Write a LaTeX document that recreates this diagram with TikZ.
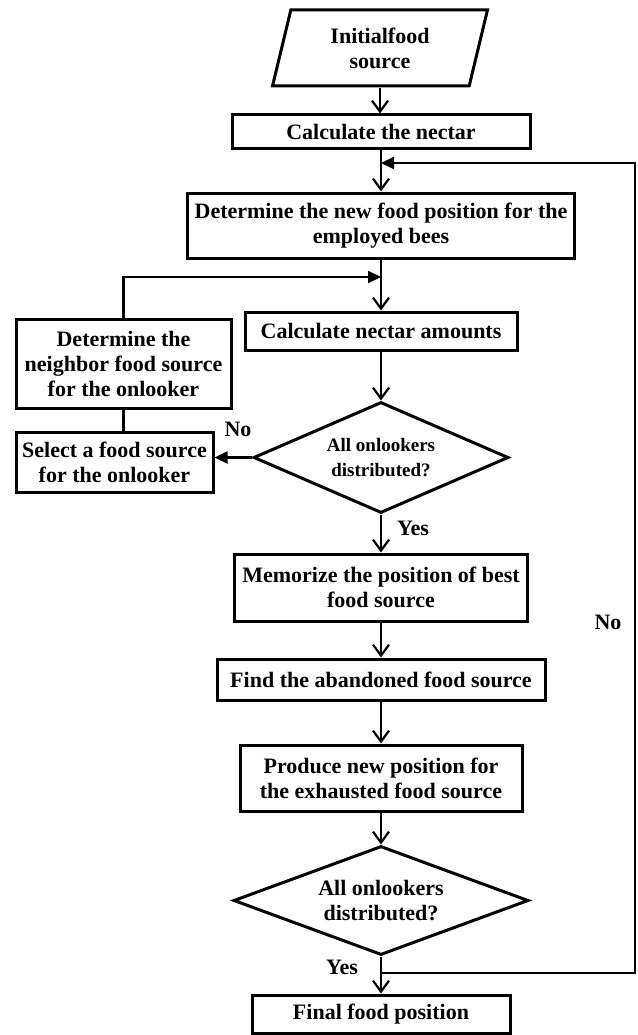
\documentclass[tikz,border=0pt]{standalone}
\usepackage{fontspec}
\setmainfont{Liberation Serif}
\usetikzlibrary{shapes.geometric,arrows.meta}

\begin{document}
\begin{tikzpicture}[x=1pt,y=-1pt,
    box/.style={draw, line width=3pt, inner sep=0pt, align=center, font=\fontsize{22}{25}\selectfont\bfseries},
    choice/.style={box, diamond, aspect=2.6},
    down/.style={line width=2.2pt, -{Straight Barb[length=11pt,width=16pt]}},
    back/.style={line width=2.2pt, -{Triangle[length=13pt,width=12pt]}},
    lbl/.style={inner sep=0pt, font=\fontsize{22}{25}\selectfont\bfseries}]
    \useasboundingbox (0,0) rectangle (637,1035);

    \node[box, trapezium, trapezium left angle=76, trapezium right angle=104, trapezium stretches, minimum width=215pt, minimum height=76pt] (init) at (380,48) {Initialfood\\source};
    \node[box, minimum width=298pt, minimum height=34pt] (calc) at (381,132) {Calculate the nectar};
    \node[box, minimum width=387pt, minimum height=65pt] (newpos) at (381,225.5) {Determine the new food position for the\\employed bees};
    \node[box, minimum width=272pt, minimum height=38pt] (amount) at (381,331) {Calculate nectar amounts};
    \node[box, minimum width=215pt, minimum height=89pt] (neigh) at (123.5,363.5) {Determine the\\neighbor food source\\for the onlooker};
    \node[box, minimum width=197pt, minimum height=60pt] (select) at (114.5,462) {Select a food source\\for the onlooker};
    \node[choice, minimum width=255pt, minimum height=111pt, font=\fontsize{19}{25}\selectfont\bfseries] (test1) at (381,457.5) {All onlookers\\distributed?};
    \node[box, minimum width=293pt, minimum height=67pt] (memo) at (381,587.5) {Memorize the position of best\\food source};
    \node[box, minimum width=328pt, minimum height=41pt] (find) at (381,679.5) {Find the abandoned food source};
    \node[box, minimum width=282pt, minimum height=66pt] (produce) at (381,778) {Produce new position for\\the exhausted food source};
    \node[choice, minimum width=295pt, minimum height=109pt] (test2) at (381,900.5) {All onlookers\\distributed?};
    \node[box, minimum width=258pt, minimum height=38pt] (final) at (381,1014) {Final food position};

    \node[lbl] (no1) at (238,429) {No};
    \node[lbl] (yes1) at (413,528) {Yes};
    \node[lbl] (no2) at (608,622) {No};
    \node[lbl] (yes2) at (342,967) {Yes};

    \coordinate (join1) at (381,163);
    \coordinate (join2) at (381,277);
    \coordinate (ret) at (381,973);

    \draw[down] (init.south) -- (init.south |- calc.north);
    \draw[down] (calc) -- (newpos);
    \draw[down] (newpos) -- (amount);
    \draw[down] (amount) -- (test1);
    \draw[down] (test1) -- (memo);
    \draw[down] (memo) -- (find);
    \draw[down] (find) -- (produce);
    \draw[down] (produce) -- (test2);
    \draw[down] (test2) -- (final);

    \draw[back] (test1.west) -- (test1.west -| select.east);
    \draw[line width=2.2pt] (neigh.south) -- (neigh.south |- select.north);
    \draw[back] (neigh.north) |- (join2);
    \draw[back] (ret) -- (635,973) |- (join1);
\end{tikzpicture}
\end{document}
